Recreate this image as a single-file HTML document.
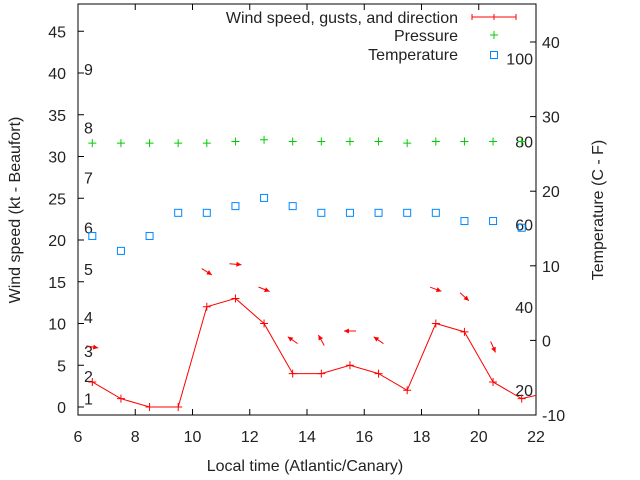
<!DOCTYPE html>
<html><head><meta charset="utf-8"><style>
body{margin:0;background:#fff;}
svg{display:block;font-family:"Liberation Sans",Arial,sans-serif;font-size:16px;fill:#222;}
</style></head><body>
<svg id="chart" width="640" height="480" viewBox="0 0 640 480" xmlns="http://www.w3.org/2000/svg"></svg>
<script>
const hours=[6.5,7.5,8.5,9.5,10.5,11.5,12.5,13.5,14.5,15.5,16.5,17.5,18.5,19.5,20.5,21.5];
const windSpeed=[3,1,0,0,12,13,10,4,4,5,4,2,10,9,3,1];
const windEnd=1.4;
const pressure=[31.6,31.6,31.6,31.6,31.6,31.8,32.0,31.8,31.8,31.8,31.8,31.6,31.8,31.8,31.8,31.8];
const temperature=[14,12,14,17.1,17.1,18,19.1,18,17.1,17.1,17.1,17.1,17.1,16,16,15.1];
const gust=[7.2,null,null,null,16.2,17.1,14.1,8,8,9.1,8,null,14.1,13.2,7.2,null];
const arrowDir=[100,null,null,null,122,95,112,305,331,270,305,null,110,132,156,null];
const xTicks=[6,8,10,12,14,16,18,20,22];
const yTicks=[0,5,10,15,20,25,30,35,40,45];
const y2Ticks=[-10,0,10,20,30,40];
const beaufortLabels=["1","2","3","4","5","6","7","8","9"];
const beaufortKt=[1,3.7,6.7,10.8,16.5,21.5,27.5,33.5,40.5];
const fLabels=["100","80","60","40","20"];
const fVals=[100,80,60,40,20];

const L=78,R=536,T=4,B=415;
const X=v=>L+(v-6)/16*(R-L);
const Y=v=>407-v*8.35;
const Y2=v=>B-(v+10)*7.46;
const svg=document.getElementById('chart');
const NS='http://www.w3.org/2000/svg';
function mk(tag,attrs,name,parent){const e=document.createElementNS(NS,tag);for(const k in attrs)e.setAttribute(k,attrs[k]);


(parent||svg).appendChild(e);return e;}
function txt(x,y,s,anchor,name,extra){const e=mk('text',Object.assign({x:x,y:y,'text-anchor':anchor},extra||{}),name);e.textContent=s;return e;}

const defs=mk('defs',{},'defs');
const cp=mk('clipPath',{id:'pc'},'plot-clip',defs);
mk('rect',{x:L,y:T,width:R-L,height:B-T},'plot-clip-rect',cp);

mk('rect',{x:L,y:T,width:R-L,height:B-T,fill:'none',stroke:'#000','stroke-width':1},'plot-frame');
xTicks.forEach(v=>{const x=X(v);
mk('line',{x1:x,y1:B,x2:x,y2:B-6,stroke:'#000'},'x-tick');
mk('line',{x1:x,y1:T,x2:x,y2:T+6,stroke:'#000'},'x-tick-top');
txt(x,442,String(v),'middle','x-tick-label');});
yTicks.forEach(v=>{const y=Y(v);
mk('line',{x1:L,y1:y,x2:L+6,y2:y,stroke:'#000'},'y-tick');
txt(66,y+6,String(v),'end','y-tick-label');});
y2Ticks.forEach(v=>{const y=Y2(v);
mk('line',{x1:R,y1:y,x2:R-6,y2:y,stroke:'#000'},'y2-tick');
txt(542,y+6,String(v),'start','y2-tick-label');});
beaufortLabels.forEach((s,i)=>txt(84,Y(beaufortKt[i])+6,s,'start','beaufort-label'));
fLabels.forEach((s,i)=>txt(533,Y2((fVals[i]-32)*5/9)+6,s,'end','fahrenheit-label'));

txt(305,471,'Local time (Atlantic/Canary)','middle','x-axis-title');
txt(0,0,'Wind speed (kt - Beaufort)','middle','y-axis-title',{transform:'translate(20,210) rotate(-90)'});
txt(0,0,'Temperature (C - F)','middle','y2-axis-title',{transform:'translate(603,210) rotate(-90)'});

const g=mk('g',{'clip-path':'url(#pc)'},'plot-area');
let pts=hours.map((h,i)=>X(h)+','+Y(windSpeed[i])).join(' ')+' '+X(22)+','+Y(windEnd);
mk('polyline',{points:pts,fill:'none',stroke:'#f00','stroke-width':1},'wind-line',g);
function plus(x,y,c,name){mk('path',{d:`M${x-4},${y}h8M${x},${y-4}v8`,stroke:c,'stroke-width':1},name,g);}
hours.forEach((h,i)=>plus(X(h),Y(windSpeed[i]),'#f00','wind-point'));
hours.forEach((h,i)=>plus(X(h),Y(pressure[i]),'#0c0','pressure-point'));
hours.forEach((h,i)=>mk('rect',{x:X(h)-3.5,y:Y2(temperature[i])-3.5,width:7,height:7,fill:'none',stroke:'#08f','stroke-width':1},'temperature-point',g));
hours.forEach((h,i)=>{if(gust[i]==null)return;const a=arrowDir[i]*Math.PI/180;const dx=Math.sin(a),dy=-Math.cos(a);
const cx=X(h),cy=Y(gust[i]);const x1=cx-dx*6,y1=cy-dy*6,x2=cx+dx*6,y2=cy+dy*6;
mk('line',{x1:x1,y1:y1,x2:x2,y2:y2,stroke:'#f00'},'wind-direction-arrow',g);
const px=-dy,py=dx;
mk('polygon',{points:`${x2},${y2} ${x2-dx*5+px*2.5},${y2-dy*5+py*2.5} ${x2-dx*5-px*2.5},${y2-dy*5-py*2.5}`,fill:'#f00'},'wind-arrow-head',g);});

txt(458,23,'Wind speed, gusts, and direction','end','legend-wind-label');
mk('path',{d:'M472,17h44M472,14v6M494,14v6M516,14v6',stroke:'#f00'},'legend-wind-sample');
txt(458,41,'Pressure','end','legend-pressure-label');
mk('path',{d:'M490,35h8M494,31v8',stroke:'#0c0'},'legend-pressure-sample');
txt(458,60,'Temperature','end','legend-temperature-label');
mk('rect',{x:490.5,y:51.5,width:7,height:7,fill:'none',stroke:'#08f'},'legend-temperature-sample');
</script>
</body></html>
